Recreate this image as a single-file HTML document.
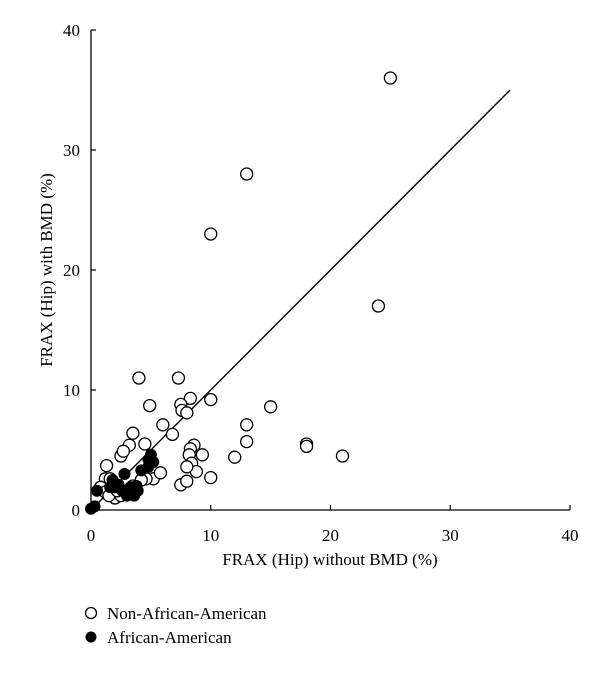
<!DOCTYPE html>
<html><head><meta charset="utf-8"><style>
body{margin:0;background:#fff}
svg text{font-family:"Liberation Serif",serif;fill:#000}
</style></head><body>
<svg id="chart" width="600" height="668">
<g id="axes"></g>
<g id="marks"></g>
<text x="330" y="565" font-size="17" text-anchor="middle">FRAX (Hip) without BMD (%)</text>
<text transform="translate(52,270) rotate(-90)" font-size="17" text-anchor="middle">FRAX (Hip) with BMD (%)</text>
<g>
<g>
<circle cx="91" cy="613" r="5.5" fill="#fff" stroke="#000" stroke-width="1.3"/>
<text x="107" y="619" font-size="17">Non-African-American</text></g>
<g>
<circle cx="91" cy="637" r="5.5" fill="#000"/>
<text x="107" y="643" font-size="17">African-American</text></g>
</g>
</svg>
<script>
const xTicks=[0,10,20,30,40];
const yTicks=[0,10,20,30,40];
const nonAAx=[25,13,10,24,4,7.3,10,8.3,7.5,7.6,8,4.9,15,13,6,6.8,3.5,13,18,18,21,12,8.6,8.3,8.2,9.3,4.5,3.2,2.5,2.7,1.3,8.4,8.8,8,7.5,8,10,5.2,5.8,4.6,1.2,1.6,0.8,1.2,2,2.5,1.5,3.5,4.2,2.2];
const nonAAy=[36,28,23,17,11,11,9.2,9.3,8.8,8.3,8.1,8.7,8.6,7.1,7.1,6.3,6.4,5.7,5.5,5.3,4.5,4.4,5.4,5.1,4.6,4.6,5.5,5.4,4.5,4.9,3.7,3.9,3.2,3.6,2.1,2.4,2.7,2.6,3.1,2.6,2.6,2.6,1.9,1.5,1.0,1.2,1.2,2.0,2.5,1.6];
const aaX=[0,0.3,0.5,1.8,2,2.3,2.8,3,3.3,3.6,3.9,3.3,2.6,1.6,4.2,4.8,5,4.8,5.2,3.8,3,3.6];
const aaY=[0.1,0.3,1.6,2.5,1.9,2.1,3.0,1.6,1.4,1.5,1.6,1.9,1.6,1.9,3.3,3.6,4.6,4.2,4.0,2.0,1.2,1.2];
const lineX=[0,35], lineY=[0,35];
const sx=v=>91+v*11.975, sy=v=>510-v*12;
const NS="http://www.w3.org/2000/svg";
function mk(tag,at,parent){const e=document.createElementNS(NS,tag);for(const k in at)e.setAttribute(k,at[k]);parent.appendChild(e);return e;}
const axes=document.getElementById('axes'), marks=document.getElementById('marks');
let a=mk('line',{x1:sx(0),y1:sy(0),x2:sx(40),y2:sy(0),stroke:'#000','stroke-width':1.3},axes);


a=mk('line',{x1:sx(0),y1:sy(0),x2:sx(0),y2:sy(40),stroke:'#000','stroke-width':1.3},axes);


xTicks.forEach(t=>{
 const l=mk('line',{x1:sx(t),y1:sy(0),x2:sx(t),y2:sy(0)-5,stroke:'#000','stroke-width':1.2},axes);
 
 
 const tx=mk('text',{x:sx(t),y:sy(0)+31,'font-size':17,'text-anchor':'middle'},axes);tx.textContent=t;
 
 
});
yTicks.forEach(t=>{
 const l=mk('line',{x1:sx(0),y1:sy(t),x2:sx(0)+5,y2:sy(t),stroke:'#000','stroke-width':1.2},axes);
 
 
 const tx=mk('text',{x:sx(0)-11,y:sy(t)+6,'font-size':17,'text-anchor':'end'},axes);tx.textContent=t;
 
 
});
const ln=mk('line',{x1:sx(lineX[0]),y1:sy(lineY[0]),x2:sx(lineX[1]),y2:sy(lineY[1]),stroke:'#000','stroke-width':1.4},marks);


nonAAx.forEach((x,i)=>{
 const c=mk('circle',{cx:sx(x),cy:sy(nonAAy[i]),r:6,fill:'#fff',stroke:'#000','stroke-width':1.3},marks);
 
 
});
aaX.forEach((x,i)=>{
 const c=mk('circle',{cx:sx(x),cy:sy(aaY[i]),r:6,fill:'#000'},marks);
 
 
});
</script>
</body></html>
